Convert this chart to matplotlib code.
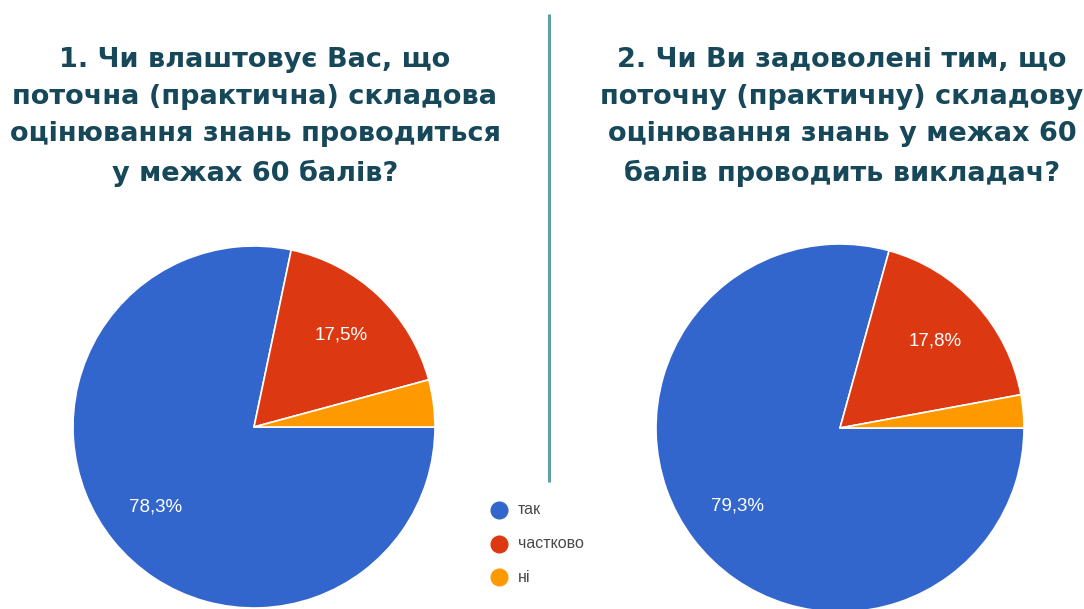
import matplotlib
matplotlib.use("Agg")
import matplotlib.pyplot as plt

W, H = 1084, 609

categories = ["так", "частково", "ні"]
values_q1 = [78.3, 17.5, 4.2]
values_q2 = [79.3, 17.8, 2.9]
colors = ["#3366cc", "#dc3912", "#ff9900"]
title_q1 = "1. Чи влаштовує Вас, що\nпоточна (практична) складова\nоцінювання знань проводиться\nу межах 60 балів?"
title_q2 = "2. Чи Ви задоволені тим, що\nпоточну (практичну) складову\nоцінювання знань у межах 60\nбалів проводить викладач?"

fig = plt.figure(figsize=(W / 100, H / 100), dpi=100)
fig.patch.set_facecolor("white")
ax = fig.add_axes([0, 0, 1, 1])


def pct_fmt(p):
    return ("%.1f%%" % p).replace(".", ",") if p >= 5 else ""


def draw_pie(vals, cx, cy, r):
    wedges, texts, autotexts = ax.pie(
        vals, colors=colors, startangle=0, counterclock=False,
        center=(cx, H - cy), radius=r, autopct=pct_fmt, pctdistance=0.70,
        wedgeprops=dict(edgecolor="white", linewidth=1.2),
        textprops=dict(color="white", fontsize=13.5, family="Liberation Sans"))
    return wedges


draw_pie(values_q1, 254, 427, 181)
draw_pie(values_q2, 840, 428, 184)

title_kw = dict(ha="center", va="top", fontsize=19.5, fontweight="bold",
                color="#17485a", linespacing=1.56, family="DejaVu Sans")
ax.text(255, H - 47, title_q1, **title_kw)
ax.text(842, H - 47, title_q2, **title_kw)

# divider
ax.plot([549, 549], [H - 14, H - 482], color="#5f9ea6", linewidth=2.2, solid_capstyle="butt")

# legend
for i, (lab, c) in enumerate(zip(categories, colors)):
    y = H - (510 + i * 33.5)
    ax.plot([499], [y], marker="o", markersize=12, color=c, linestyle="none")
    ax.text(518, y, lab, ha="left", va="center", fontsize=11.5, color="#4a4a4a",
            family="Liberation Sans")

ax.set_xlim(0, W)
ax.set_ylim(0, H)
ax.set_aspect("equal", adjustable="box")
ax.axis("off")

fig.savefig("out.png", dpi=100, facecolor="white")
